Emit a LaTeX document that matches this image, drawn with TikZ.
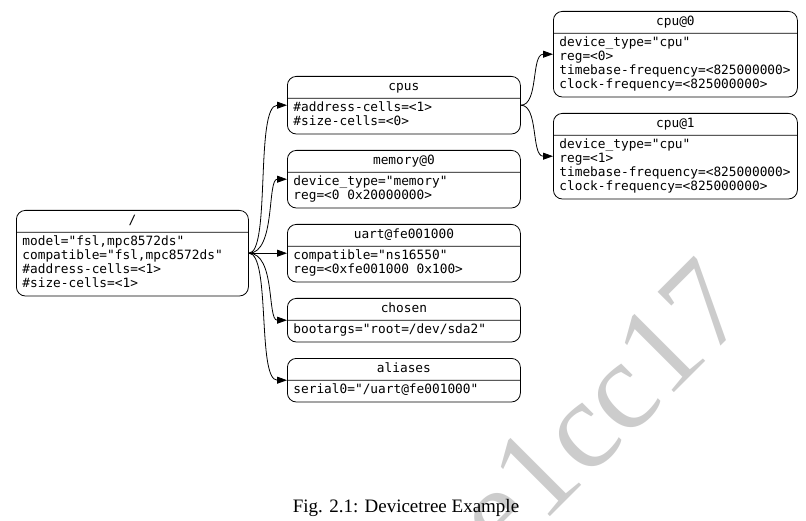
\documentclass[tikz,border=0pt]{standalone}
\usepackage{fontspec}
\setmainfont{Liberation Serif}
\newfontfamily\recfont{DejaVu Sans Mono}
\usetikzlibrary{shapes.multipart,arrows.meta}

\definecolor{wmgray}{RGB}{204,204,204}

\tikzset{
  rec/.style={rectangle split, rectangle split parts=2, draw, line width=0.8pt,
    rounded corners=9pt, rectangle split part align={center,left}, align=left,
    inner xsep=6pt, inner ysep=3.5pt, anchor=north west,
    font=\recfont\fontsize{12.8}{14}\selectfont},
  edge/.style={-{Triangle[length=10pt,width=7pt]}, line width=0.8pt},
}

\begin{document}
\begin{tikzpicture}[x=1pt,y=-1pt]
  \useasboundingbox (0,0) rectangle (806,521);
  % watermark behind everything
  \begin{scope}
    \clip (0,0) rectangle (806,521);
    \node[rotate=45, anchor=base west, inner sep=0pt, text=wmgray,
      font=\fontsize{126}{126}\selectfont] (wmark) at (503,564) {e1cc17};
  \end{scope}

  % tree nodes
  \node[rec, minimum width=232pt] (root) at (16,210)
    {\strut/\nodepart{two}\strut model="fsl,mpc8572ds"\\compatible="fsl,mpc8572ds"\\\#address-cells=<1>\\\#size-cells=<1>\strut};
  \node[rec, minimum width=233pt] (cpus) at (287,76)
    {\strut cpus\nodepart{two}\strut\#address-cells=<1>\\\#size-cells=<0>\strut};
  \node[rec, minimum width=233pt] (memory) at (287,150)
    {\strut memory@0\nodepart{two}\strut device\_type="memory"\\reg=<0 0x20000000>\strut};
  \node[rec, minimum width=233pt] (uart) at (287,224)
    {\strut uart@fe001000\nodepart{two}\strut compatible="ns16550"\\reg=<0xfe001000 0x100>\strut};
  \node[rec, minimum width=233pt] (chosen) at (287,298)
    {\strut chosen\nodepart{two}\strut bootargs="root=/dev/sda2"};
  \node[rec, minimum width=233pt] (aliases) at (287,358)
    {\strut aliases\nodepart{two}\strut serial0="/uart@fe001000"};
  \node[rec, minimum width=244pt] (cpu0) at (553,11)
    {\strut cpu@0\nodepart{two}\strut device\_type="cpu"\\reg=<0>\\timebase-frequency=<825000000>\\clock-frequency=<825000000>\strut};
  \node[rec, minimum width=244pt] (cpu1) at (553,113)
    {\strut cpu@1\nodepart{two}\strut device\_type="cpu"\\reg=<1>\\timebase-frequency=<825000000>\\clock-frequency=<825000000>\strut};

  % edges
  \draw[edge] (root.east) .. controls +(22,0) and +(-32,0) .. (cpus.west);
  \draw[edge] (root.east) .. controls +(27,0) and +(-20,0) .. (memory.west);
  \draw[edge] (root.east) -- (uart.west);
  \draw[edge] (root.east) .. controls +(27,0) and +(-20,0) .. (chosen.west);
  \draw[edge] (root.east) .. controls +(22,0) and +(-30,0) .. (aliases.west);
  \draw[edge] (cpus.east) .. controls +(18,0) and +(-22,0) .. (cpu0.west);
  \draw[edge] (cpus.east) .. controls +(18,0) and +(-22,0) .. (cpu1.west);

  \node[anchor=base, font=\fontsize{19}{22}\selectfont] (caption) at (406,512)
    {Fig. 2.1: Devicetree Example};
\end{tikzpicture}
\end{document}
